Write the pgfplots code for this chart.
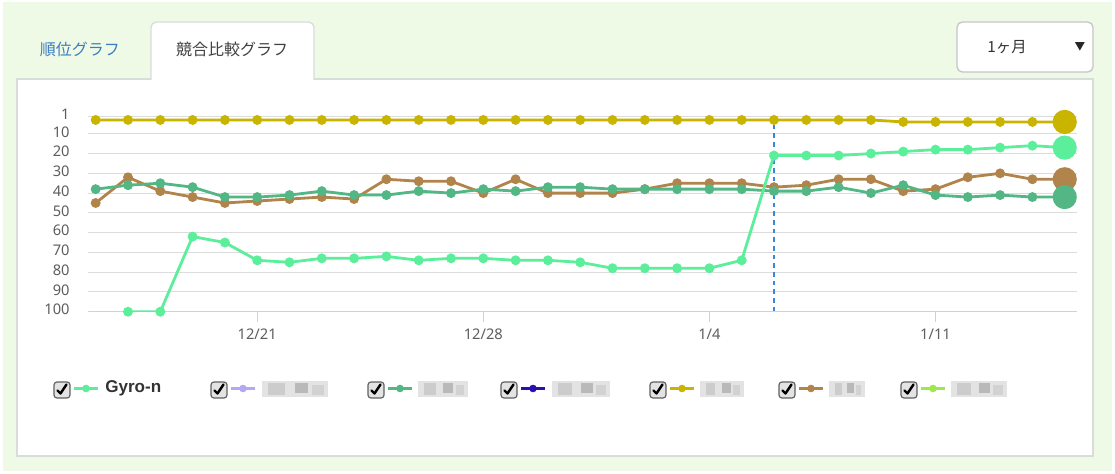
\documentclass[border=0pt]{standalone}
\usepackage{fontspec}
\setmainfont{Noto Sans}
\newfontfamily\cjk{Noto Sans CJK JP}
\newfontfamily\legfont{Liberation Sans}
\usepackage{pgfplots}
\pgfplotsset{compat=1.18}

\definecolor{bggreen}{HTML}{EEF9E6}
\definecolor{panelc}{HTML}{D9DDD9}
\definecolor{gyro}{HTML}{5CEF9B}
\definecolor{olive}{HTML}{C9B400}
\definecolor{brownc}{HTML}{B0844A}
\definecolor{teal}{HTML}{52B784}
\definecolor{lav}{HTML}{B3A9F2}
\definecolor{navy}{HTML}{2A10B0}
\definecolor{lime}{HTML}{9EE84A}
\definecolor{dashc}{HTML}{3A86D8}
\definecolor{gridc}{HTML}{DCDCDC}
\definecolor{axisc}{HTML}{C9D3E2}
\definecolor{tickc}{HTML}{5E5E5E}
\definecolor{tabblue}{HTML}{3A7EBF}

% legend helpers, in pixel units
\newcommand{\chk}[1]{%
  \draw[draw=gray!75!black, fill=gray!22, rounded corners=2.2, line width=0.9]
    ({#1-8},382) rectangle ({#1+8},398);
  \draw[black, line width=1.8, line cap=round, line join=round]
    ({#1-4.5},390.5) -- ({#1-1.5},393.5) -- ({#1+4.5},384.5);}
\newcommand{\leg}[2]{%
  \chk{#1}
  \draw[#2, line width=2.6] ({#1+12},388.5) -- ({#1+36},388.5);
  \fill[#2] ({#1+24},388.5) circle (3.8);}
\newcommand{\blur}[2]{%
  \fill[gray!22] (#1,381) rectangle ({#1+#2},397);
  \fill[gray!40] ({#1+6},383) rectangle ({#1+0.35*#2},395);
  \fill[gray!55] ({#1+0.5*#2},383) rectangle ({#1+0.7*#2},393);
  \fill[gray!35] ({#1+0.75*#2},385) rectangle ({#1+#2-4},395);}

\begin{document}
\begin{tikzpicture}
\begin{scope}[x=0.75pt,y=-0.75pt]
  \fill[white] (0,0) rectangle (1115,474);
  \fill[bggreen] (3,2) rectangle (1112,471);
  % panel
  \draw[fill=white, draw=panelc, line width=1] (17,79) rectangle (1093,456);
  % tabs
  \draw[fill=white, draw=panelc, line width=1, rounded corners=4]
    (151,79.5) -- (151,22) -- (314,22) -- (314,79.5);
  \fill[white] (151.6,77) rectangle (313.4,80.5);
  \node[text=tabblue, font=\cjk\fontsize{12}{14}\selectfont] at (80,49) {順位グラフ};
  \node[text=black!75, font=\cjk\fontsize{12}{14}\selectfont] at (232,49) {競合比較グラフ};
  % period selector
  \draw[fill=white, draw=gray!45, line width=1, rounded corners=4] (957,22) rectangle (1093,72);
  \node[text=black!80, font=\cjk\fontsize{11.5}{14}\selectfont] at (1007,47) {1ヶ月};
  \node[text=black!85, font=\cjk\fontsize{8}{10}\selectfont] at (1080,47) {▼};
\end{scope}

\begin{axis}[
  at={(66.2pt,-87pt)}, anchor=north west,
  scale only axis,
  width=741.3pt, height=146.8pt,
  xmin=-0.23, xmax=30.37,
  ymin=1, ymax=100,
  y dir=reverse,
  ytick={1,10,20,...,100},
  xtick={5,12,19,26},
  xticklabels={12/21,12/28,1/4,1/11},
  ymajorgrids,
  grid style={gridc, line width=0.75pt},
  axis line style={draw=none},
  tick align=outside,
  major tick length=7.5pt,
  xtick pos=left, ytick pos=left,
  xtick style={axisc, line width=0.75pt},
  ytick style={draw=none},
  tick label style={font=\fontsize{11}{13}\selectfont, text=tickc},
  yticklabel style={xshift=-3pt, yshift=1.5pt},
  xticklabel style={yshift=-2pt},
  /pgf/number format/assume math mode=true,
  mark size=2.6pt,
  every axis plot/.append style={line width=2.1pt},
]
\draw[dashc, line width=0.9pt, dash pattern=on 3.5pt off 3pt] (axis cs:21,1) -- (axis cs:21,100);
\draw[axisc, line width=1.1pt] (axis cs:-0.23,100) -- (axis cs:30.37,100);

% brown
\addplot[brownc, mark=*] coordinates {
  (0,45) (1,32) (2,39) (3,42) (4,45) (5,44) (6,43) (7,42) (8,43) (9,33)
  (10,34) (11,34) (12,40) (13,33) (14,40) (15,40) (16,40) (17,38) (18,35) (19,35)
  (20,35) (21,37) (22,36) (23,33) (24,33) (25,39) (26,38) (27,32) (28,30) (29,33) (30,33)};
% teal
\addplot[teal, mark=*] coordinates {
  (0,38) (1,36) (2,35) (3,37) (4,42) (5,42) (6,41) (7,39) (8,41) (9,41)
  (10,39) (11,40) (12,38) (13,39) (14,37) (15,37) (16,38) (17,38) (18,38) (19,38)
  (20,38) (21,39) (22,39) (23,37) (24,40) (25,36) (26,41) (27,42) (28,41) (29,42) (30,42)};
% olive
\addplot[olive, mark=*] coordinates {
  (0,3) (1,3) (2,3) (3,3) (4,3) (5,3) (6,3) (7,3) (8,3) (9,3)
  (10,3) (11,3) (12,3) (13,3) (14,3) (15,3) (16,3) (17,3) (18,3) (19,3)
  (20,3) (21,3) (22,3) (23,3) (24,3) (25,4) (26,4) (27,4) (28,4) (29,4) (30,4)};
% Gyro-n
\addplot[gyro, mark=*] coordinates {
  (1,100) (2,100) (3,62) (4,65) (5,74) (6,75) (7,73) (8,73) (9,72)
  (10,74) (11,73) (12,73) (13,74) (14,74) (15,75) (16,78) (17,78) (18,78) (19,78)
  (20,74) (21,21) (22,21) (23,21) (24,20) (25,19) (26,18) (27,18) (28,17) (29,16) (30,17)};

% latest values, large markers
\addplot[brownc, only marks, mark=*, mark size=8pt] coordinates {(30,33)};
\addplot[teal, only marks, mark=*, mark size=8pt] coordinates {(30,42)};
\addplot[olive, only marks, mark=*, mark size=8pt] coordinates {(30,4)};
\addplot[gyro, only marks, mark=*, mark size=8pt] coordinates {(30,17)};
\end{axis}

\begin{scope}[x=0.75pt,y=-0.75pt]
  \leg{62}{gyro}
  \node[anchor=west, inner sep=0, text=black!80, font=\legfont\bfseries\fontsize{12.8}{14}\selectfont] at (105,388.5) {Gyro-n};
  \leg{219}{lav}   \blur{262}{66}
  \leg{376}{teal}  \blur{418}{50}
  \leg{509}{navy}  \blur{552}{58}
  \leg{658}{olive} \blur{700}{44}
  \leg{787}{brownc}\blur{829}{36}
  \leg{909}{lime}  \blur{951}{56}
\end{scope}
\end{tikzpicture}
\end{document}
